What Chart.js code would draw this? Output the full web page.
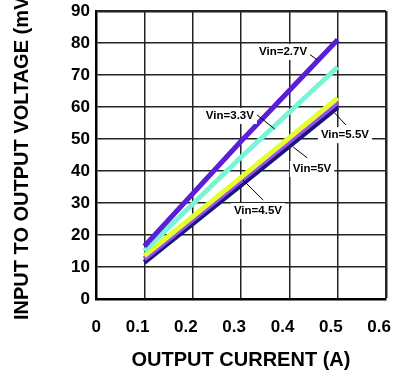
<!DOCTYPE html>
<html>
<head>
<meta charset="utf-8">
<script src="https://cdn.jsdelivr.net/npm/chart.js@4"></script>
<style>
  html, body { margin: 0; padding: 0; background: #fff; }
  #wrap { width: 395px; height: 377px; }
</style>
</head>
<body>
<div id="wrap"><canvas id="chart" width="395" height="377"></canvas></div>
<script>
// output current (A) where each curve was read
const currents = [0.1, 0.3, 0.5];

// input-to-output voltage (mV) per Vin
const vin27 = [16.5, 49.3, 81];
const vin33 = [15, 44.3, 72.5];
const vin45 = [13.5, 38, 62.8];
const vin50 = [12.5, 37, 61.5];
const vin55 = [11.5, 35.6, 60];

const seriesNames = ['Vin=2.7V', 'Vin=3.3V', 'Vin=4.5V', 'Vin=5V', 'Vin=5.5V'];
const seriesColors = ['#5a1ed6', '#78f5d6', '#e4ff2e', '#9a4cf0', '#16167e'];

// callout labels: text position and leader line, in data units
const callouts = [
  { text: 'Vin=2.7V', x: 0.387, y: 77.2, from: [0.437, 77], to: [0.459, 74.6] },
  { text: 'Vin=3.3V', x: 0.277, y: 57.2, from: [0.331, 57.8], to: [0.370, 53.1] },
  { text: 'Vin=5.5V', x: 0.515, y: 51.2, from: [0.494, 58.1], to: [0.517, 54.4] },
  { text: 'Vin=5V', x: 0.447, y: 40.6, from: [0.408, 47.5], to: [0.437, 44.1] },
  { text: 'Vin=4.5V', x: 0.335, y: 27.5, from: [0.304, 37.2], to: [0.346, 30.9] }
];

const allSeries = [vin27, vin33, vin45, vin50, vin55];

const calloutPlugin = {
  id: 'callouts',
  afterDatasetsDraw(chart) {
    const { ctx, scales: { x, y } } = chart;
    ctx.save();
    ctx.strokeStyle = '#000';
    ctx.lineWidth = 1;
    callouts.forEach(c => {
      ctx.beginPath();
      ctx.moveTo(x.getPixelForValue(c.from[0]), y.getPixelForValue(c.from[1]));
      ctx.lineTo(x.getPixelForValue(c.to[0]), y.getPixelForValue(c.to[1]));
      ctx.stroke();
    });
    ctx.font = 'bold 11.5px "Liberation Sans", Arial, sans-serif';
    ctx.textAlign = 'center';
    ctx.textBaseline = 'middle';
    callouts.forEach(c => {
      const px = x.getPixelForValue(c.x);
      const py = y.getPixelForValue(c.y);
      const w = ctx.measureText(c.text).width;
      ctx.fillStyle = '#fff';
      ctx.fillRect(px - w / 2 - 3, py - 8, w + 6, 16);
      ctx.fillStyle = '#000';
      ctx.fillText(c.text, px, py);
    });
    ctx.restore();
  }
};

const tickFont = { family: '"Liberation Sans", Arial, sans-serif', size: 17, weight: 'bold' };
const titleFont = { family: '"Liberation Sans", Arial, sans-serif', size: 20, weight: 'bold' };

const edgeWidth = (ctx, max) => (ctx.tick && Math.abs(ctx.tick.value - max) < 1e-9) ? 2.5 : 1.5;

new Chart(document.getElementById('chart'), {
  type: 'line',
  data: {
    datasets: allSeries.map((vals, i) => ({
      label: seriesNames[i],
      data: vals.map((v, j) => ({ x: currents[j], y: v })),
      borderColor: seriesColors[i],
      borderWidth: 5,
      borderCapStyle: 'butt',
      pointRadius: 0,
      tension: 0,
      fill: false
    }))
  },
  options: {
    responsive: false,
    animation: false,
    layout: { padding: { top: 11, right: 9, left: 0, bottom: 0 } },
    plugins: { legend: { display: false }, tooltip: { enabled: false } },
    scales: {
      x: {
        type: 'linear',
        min: 0,
        max: 0.6,
        ticks: { stepSize: 0.1, color: '#000', font: tickFont, padding: 18, maxRotation: 0, align: 'end', labelOffset: 5 },
        grid: { color: '#222', lineWidth: c => edgeWidth(c, 0.6), drawTicks: false },
        border: { color: '#000', width: 2.5 },
        title: { display: true, text: 'OUTPUT CURRENT (A)', color: '#000', font: titleFont, padding: { top: 0, bottom: 5 } },
        afterFit(s) { s.height = 78; s.paddingLeft = 0; s.paddingRight = 0; }
      },
      y: {
        min: 0,
        max: 90,
        ticks: { stepSize: 10, color: '#000', font: tickFont, padding: 6 },
        grid: { color: '#222', lineWidth: c => edgeWidth(c, 90), drawTicks: false },
        border: { color: '#000', width: 2.5 },
        title: { display: true, text: 'INPUT TO OUTPUT VOLTAGE (mV)', color: '#000', font: titleFont, padding: { top: 10, bottom: 0 } },
        afterFit(s) { s.width = 96; s.paddingTop = 0; s.paddingBottom = 0; }
      }
    }
  },
  plugins: [calloutPlugin]
});
</script>
</body>
</html>
